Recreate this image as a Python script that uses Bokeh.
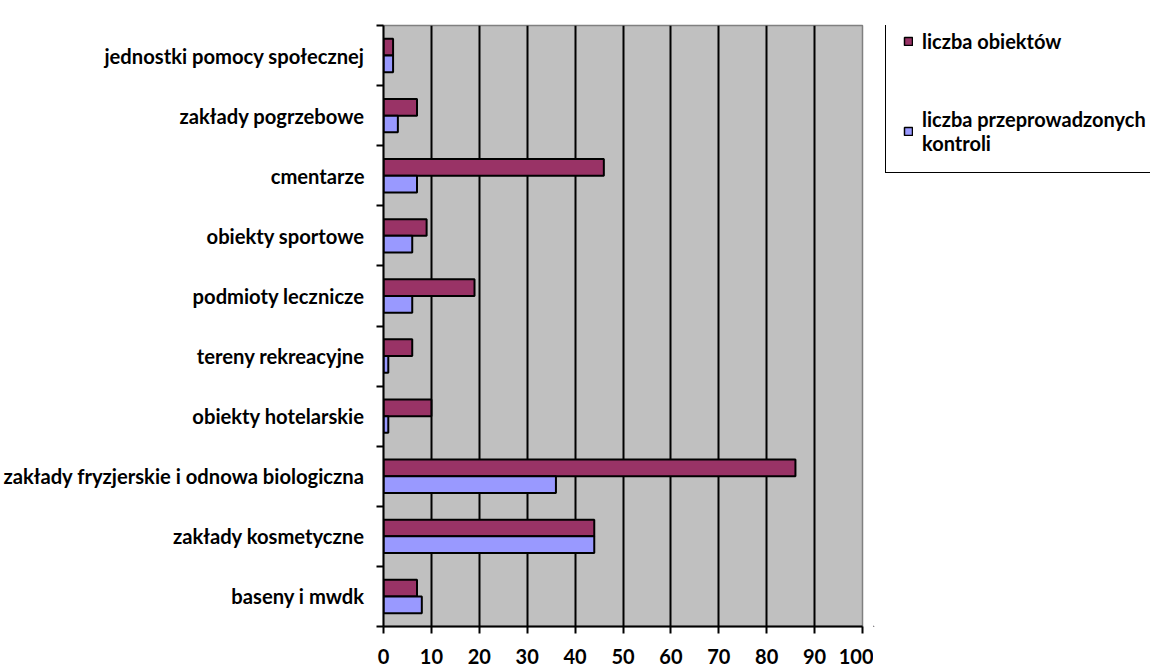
from bokeh.plotting import figure
from bokeh.layouts import row
from bokeh.models import (Range1d, FixedTicker, Legend, LegendItem, ColumnDataSource)
from bokeh.transform import dodge
from bokeh.embed import file_html
from bokeh.resources import INLINE

# ---- data (bottom to top) ----
categories = [
    "baseny i mwdk",
    "zakłady kosmetyczne",
    "zakłady fryzjerskie i odnowa biologiczna",
    "obiekty hotelarskie",
    "tereny rekreacyjne",
    "podmioty lecznicze",
    "obiekty sportowe",
    "cmentarze",
    "zakłady pogrzebowe",
    "jednostki pomocy społecznej",
]
liczba_obiektow = [7, 44, 86, 10, 6, 19, 9, 46, 7, 2]
liczba_kontroli = [8, 44, 36, 1, 1, 6, 6, 7, 3, 2]
x_ticks = [0, 10, 20, 30, 40, 50, 60, 70, 80, 90, 100]
series_names = ["liczba obiektów", "liczba przeprowadzonych\nkontroli"]
series_colors = ["#993366", "#9999FF"]

FONT = "Lato"
centers = [i + 0.5 for i in range(len(categories))]
bounds = list(range(len(categories) + 1))

src = ColumnDataSource(dict(y=centers, a=liczba_obiektow, b=liczba_kontroli))

H = 669
p = figure(width=873, height=H, output_backend="svg", toolbar_location=None,
           x_range=Range1d(x_ticks[0], x_ticks[-1]),
           y_range=Range1d(0, len(categories)),
           min_border_left=383, min_border_right=11,
           min_border_top=25, min_border_bottom=43)
p.border_fill_color = "white"
p.background_fill_color = "#C0C0C0"
p.outline_line_color = "#808080"
p.outline_line_width = 1.5

BAR_H = 0.278
r1 = p.hbar(y=dodge("y", BAR_H / 2), right="a", left=0, height=BAR_H, source=src,
            fill_color=series_colors[0], line_color="black", line_width=2)
r2 = p.hbar(y=dodge("y", -BAR_H / 2), right="b", left=0, height=BAR_H, source=src,
            fill_color=series_colors[1], line_color="black", line_width=2)

# grid
p.ygrid.grid_line_color = None
p.xgrid.ticker = FixedTicker(ticks=x_ticks)
p.xgrid.grid_line_color = "black"
p.xgrid.grid_line_width = 2
p.xgrid.level = "underlay"

# x axis
xa = p.xaxis[0]
xa.ticker = FixedTicker(ticks=x_ticks)
xa.axis_line_width = 2
xa.major_tick_line_width = 2
xa.major_tick_out = 7
xa.major_tick_in = 0
xa.minor_tick_line_color = None
xa.major_label_standoff = 15
xa.major_label_text_font = FONT
xa.major_label_text_font_style = "bold"
xa.major_label_text_font_size = "20px"
xa.major_label_text_color = "black"

# y axis: labels at centers, ticks at boundaries
ya = p.yaxis[0]
ya.ticker = FixedTicker(ticks=centers, minor_ticks=bounds)
ya.major_label_overrides = {c: n for c, n in zip(centers, categories)}
ya.axis_line_width = 2
ya.major_tick_line_color = None
ya.major_tick_out = 0
ya.major_tick_in = 0
ya.minor_tick_line_color = "black"
ya.minor_tick_line_width = 2
ya.minor_tick_out = 7
ya.minor_tick_in = 0
ya.major_label_standoff = 12
ya.major_label_text_font = FONT
ya.major_label_text_font_style = "bold"
ya.major_label_text_font_size = "20.2px"
ya.major_label_text_color = "black"

# ---- legend panel ----
p2 = figure(width=277, height=H, output_backend="svg", toolbar_location=None,
            x_range=Range1d(0, 1), y_range=Range1d(0, 1), title=None,
            x_axis_type=None, y_axis_type=None, min_border=0)
p2.outline_line_color = None
p2.background_fill_color = "white"
p2.border_fill_color = "white"
p2.grid.visible = False
# legend proxies (kept outside the visible range of this panel)
proxies = [p2.hbar(y=[-5], right=[-4], left=-5, height=0.1, fill_color=c,
                   line_color="black", line_width=1.5) for c in series_colors]

legend = Legend(items=[LegendItem(label=n, renderers=[r]) for n, r in zip(series_names, proxies)],
                location=(12, 453))
legend.margin = 0
legend.border_line_color = "black"
legend.border_line_alpha = 1
legend.border_line_width = 1.5
legend.background_fill_color = "white"
legend.background_fill_alpha = 1
legend.glyph_width = 10
legend.glyph_height = 10
legend.label_text_font = FONT
legend.label_text_font_style = "bold"
legend.label_text_font_size = "20px"
legend.label_text_color = "black"
legend.padding = 17
legend.spacing = 54
legend.label_standoff = 9
legend.label_width = 240
p2.add_layout(legend, "center")

layout = row(p, p2, spacing=0)
open("out.html", "w").write(file_html(layout, INLINE))
